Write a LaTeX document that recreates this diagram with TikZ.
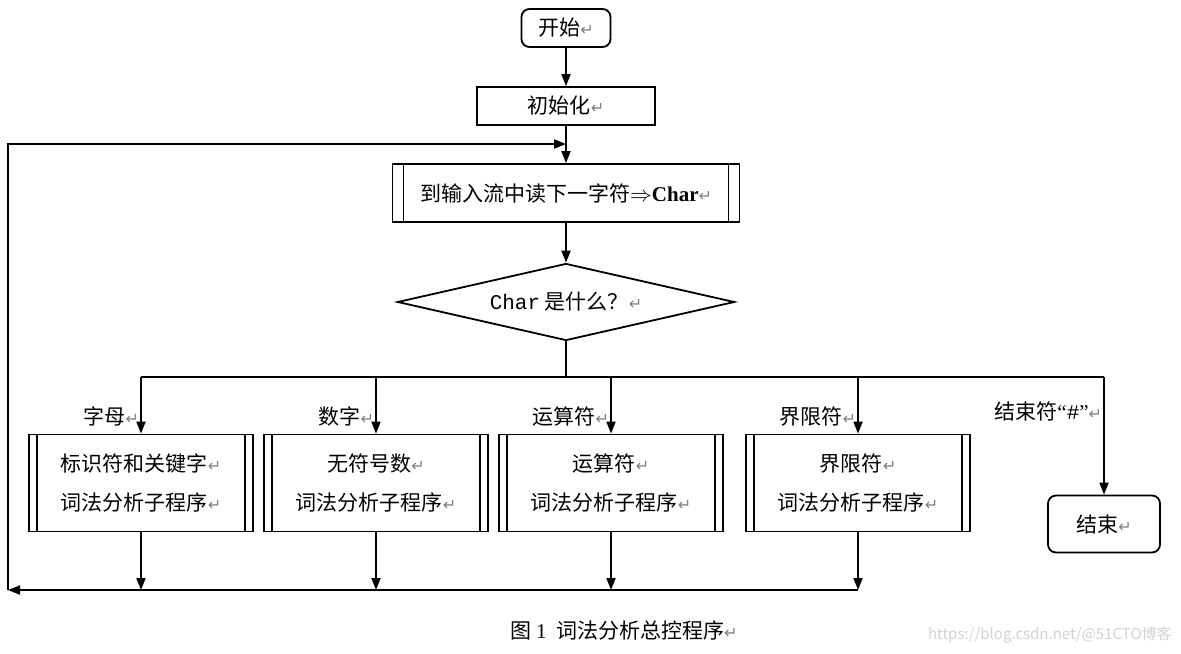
\documentclass[tikz,border=0pt]{standalone}
\usepackage{fontspec}
\setmainfont{Noto Sans CJK SC}
\newfontfamily\serifpart{Liberation Serif}
\newfontfamily\monopart{Liberation Mono}
\newfontfamily\markfont{DejaVu Sans}
\usetikzlibrary{arrows.meta,shapes.geometric}
\newcommand{\retmark}{{\markfont\color{gray}\footnotesize ↵}}

\begin{document}
\begin{tikzpicture}[x=0.5pt, y=-0.5pt,
  base/.style={draw, line width=0.9pt, font=\fontsize{10.5}{19.5}\selectfont,
    align=center, inner sep=2pt},
  term/.style={base, rounded corners=4pt},
  proc/.style={base},
  subproc/.style={base, path picture={
      \draw[line width=0.9pt] ([xshift=#1]path picture bounding box.north west)
        -- ([xshift=#1]path picture bounding box.south west);
      \draw[line width=0.9pt] ([xshift=-#1]path picture bounding box.north east)
        -- ([xshift=-#1]path picture bounding box.south east);}},
  subproc/.default=4pt,
  decision/.style={base, diamond, aspect=4.4, minimum width=168.5pt,
    minimum height=38.5pt, inner sep=1pt},
  line/.style={line width=0.9pt},
  arr/.style={-{Triangle[length=6pt,width=4.5pt]}, line width=0.9pt},
  lbl/.style={left, font=\fontsize{10.5}{12}\selectfont, inner sep=0.5pt}
]
  \useasboundingbox (0,0) rectangle (1181,653);

  \node[term, minimum width=44.5pt, minimum height=19pt] (start) at (566,28) {开始\retmark};
  \node[proc, minimum width=89pt, minimum height=19pt] (init) at (566,106) {初始化\retmark};
  \node[subproc=5.5pt, minimum width=173.5pt, minimum height=29pt] (read) at (566,193)
    {到输入流中读下一字符$\Rightarrow${\serifpart\bfseries Char}\retmark};
  \node[decision] (what) at (566,302) {{\monopart Char} 是什么？\retmark};
  \draw[arr] (start) -- (init);
  \draw[arr] (init) -- (read);
  \draw[arr] (read) -- (what);

  % Sub-programs
  \node[subproc, minimum width=112pt, minimum height=48.5pt] (ident) at (141,483)
    {标识符和关键字\retmark\\词法分析子程序\retmark};
  \node[subproc, minimum width=112pt, minimum height=48.5pt] (num) at (376,483)
    {无符号数\retmark\\词法分析子程序\retmark};
  \node[subproc, minimum width=112pt, minimum height=48.5pt] (oper) at (611,483)
    {运算符\retmark\\词法分析子程序\retmark};
  \node[subproc, minimum width=112pt, minimum height=48.5pt] (delim) at (858,483)
    {界限符\retmark\\词法分析子程序\retmark};
  \node[term, minimum width=56pt, minimum height=28.5pt] (stop) at (1104,524) {结束\retmark};

  \coordinate (fork) at (566,377);
  \coordinate (join) at (8,590);
  \coordinate (back) at (8,144);
  \coordinate (entry) at (566,144);

  \draw[line] (what) -- (fork);
  \draw[line] (ident.north |- fork) -- (stop.north |- fork);
  \draw[arr] (ident.north |- fork) -- node[lbl, pos=0.69] {字母\retmark} (ident.north);
  \draw[arr] (num.north |- fork) -- node[lbl, pos=0.69] {数字\retmark} (num.north);
  \draw[arr] (oper.north |- fork) -- node[lbl, pos=0.69] {运算符\retmark} (oper.north);
  \draw[arr] (delim.north |- fork) -- node[lbl, pos=0.69] {界限符\retmark} (delim.north);
  \draw[arr] (stop.north |- fork) -- node[lbl, pos=0.29]
    {结束符{\serifpart “}{\monopart\#}{\serifpart ”}\retmark} (stop.north);

  % Loop back
  \draw[arr] (ident.south) -- (ident.south |- join);
  \draw[arr] (num.south) -- (num.south |- join);
  \draw[arr] (oper.south) -- (oper.south |- join);
  \draw[arr] (delim.south) -- (delim.south |- join);
  \draw[arr] (delim.south |- join) -- (join);
  \draw[arr] (join) -- (back) -- (entry);

  \node[font=\fontsize{10.5}{12}\selectfont] (caption) at (624,630)
    {图 {\serifpart 1}\ \ 词法分析总控程序\retmark};
  \node[anchor=east, text=gray!35, font=\fontsize{7.5}{9}\selectfont, inner sep=0pt]
    (watermark) at (1172,635) {https://blog.csdn.net/@51CTO博客};
\end{tikzpicture}
\end{document}
